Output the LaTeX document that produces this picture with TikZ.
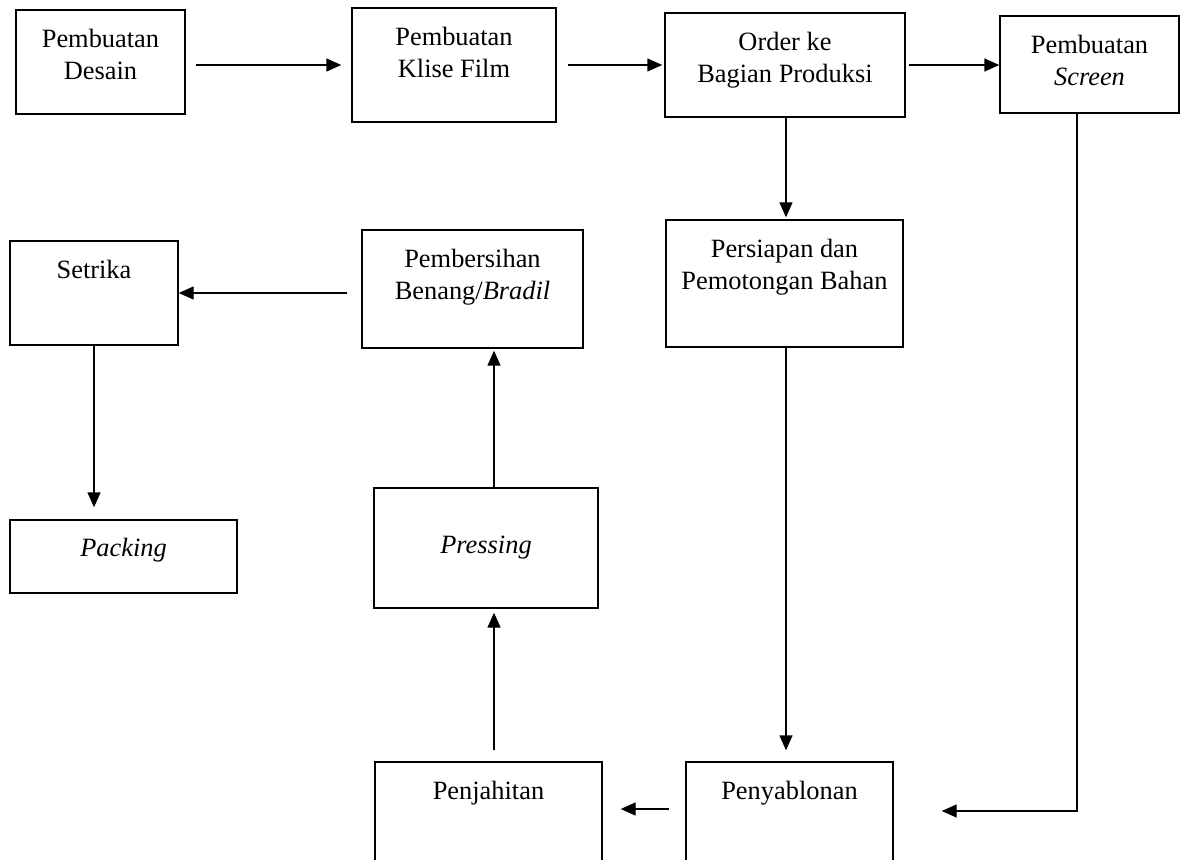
\documentclass[tikz,border=0pt]{standalone}
\usepackage{fontspec}
\setmainfont{Liberation Serif}
\usetikzlibrary{positioning,arrows.meta}

\tikzset{
  stepbox/.style={draw, line width=0.7pt, inner sep=0pt},
  steptext/.style={inner sep=0pt, align=center, font=\fontsize{13.2}{16}\selectfont},
  flow/.style={draw, line width=0.7pt, -{Triangle[length=7.5pt,width=6.5pt]}},
}

\begin{document}
\begin{tikzpicture}[x=0.5pt,y=0.5pt]
\useasboundingbox (0,0) rectangle (1180,859);
% top row
\node[stepbox, minimum width=84.5pt, minimum height=52pt] (desain) at (100.5,797) {};
\node[stepbox, minimum width=102pt, minimum height=57pt] (klise) at (454,794) {};
\node[stepbox, minimum width=120pt, minimum height=52pt] (order) at (785,794) {};
\node[stepbox, minimum width=89.5pt, minimum height=48.5pt] (screen) at (1089.5,794.5) {};
\node[steptext, below=9.5pt of desain.north] (desain-t) {Pembuatan\\Desain};
\node[steptext, below=9.5pt of klise.north] (klise-t) {Pembuatan\\Klise Film};
\node[steptext, below=9.5pt of order.north] (order-t) {Order ke\\Bagian Produksi};
\node[steptext, below=9.5pt of screen.north] (screen-t) {Pembuatan\\\textit{Screen}};
% middle row
\node[stepbox, minimum width=118.5pt, minimum height=63.5pt] (persiapan) at (784.5,575.5) {};
\node[stepbox, minimum width=110.5pt, minimum height=59pt] (pembersihan) at (472.5,570) {};
\node[stepbox, minimum width=84pt, minimum height=52pt] (setrika) at (94,566) {};
\node[steptext, below=9.5pt of persiapan.north] (persiapan-t) {Persiapan dan\\Pemotongan Bahan};
\node[steptext, below=9.5pt of pembersihan.north] (pembersihan-t) {Pembersihan\\Benang/\textit{Bradil}};
\node[steptext, below=9.5pt of setrika.north] (setrika-t) {Setrika};
% lower rows
\node[stepbox, minimum width=113.5pt, minimum height=36.5pt] (packing) at (123.5,302.5) {};
\node[stepbox, steptext, minimum width=112pt, minimum height=60pt] (pressing) at (486,311) {\textit{Pressing}};
\node[stepbox, minimum width=113.5pt, minimum height=49.5pt] (penjahitan) at (488.5,47.5) {};
\node[stepbox, minimum width=103.5pt, minimum height=49.5pt] (penyablonan) at (789.5,47.5) {};
\node[steptext, below=9pt of packing.north] (packing-t) {\textit{Packing}};
\node[steptext, below=9.5pt of penjahitan.north] (penjahitan-t) {Penjahitan};
\node[steptext, below=9.5pt of penyablonan.north] (penyablonan-t) {Penyablonan};
% arrows
\draw[flow, shorten <=5pt, shorten >=5pt] (desain.east |- klise.west) -- (klise.west);
\draw[flow, shorten <=5.5pt, shorten >=1pt] (klise.east) -- (klise.east -| order.west);
\draw[flow, shorten <=1.5pt] (order.east) -- (order.east -| screen.west);
\draw[flow, shorten >=1pt] ([xshift=0.5pt]order.south) -- ([xshift=0.5pt]order.south |- persiapan.north);
\draw[flow, shorten >=5.5pt] ([xshift=0.75pt]persiapan.south) -- ([xshift=0.75pt]persiapan.south |- penyablonan.north);
\coordinate (turn) at (1077,48);
\draw[flow, shorten >=24pt] (screen.south -| turn) -- (turn) -- (turn -| penyablonan.east);
\draw[flow, shorten <=8pt, shorten >=9pt] ([yshift=1.25pt]penyablonan.west) -- ([yshift=1.25pt]penyablonan.west -| penjahitan.east);
\draw[flow, shorten <=5.5pt, shorten >=2pt] ([xshift=4pt]pressing.south |- penjahitan.north) -- ([xshift=4pt]pressing.south);
\draw[flow, shorten >=1pt] ([xshift=4pt]pressing.north) -- ([xshift=4pt]pressing.north |- pembersihan.south);
\draw[flow, shorten <=7pt] (pembersihan.west |- setrika.east) -- (setrika.east);
\draw[flow, shorten >=6pt] (setrika.south) -- (setrika.south |- packing.north);
\end{tikzpicture}
\end{document}
